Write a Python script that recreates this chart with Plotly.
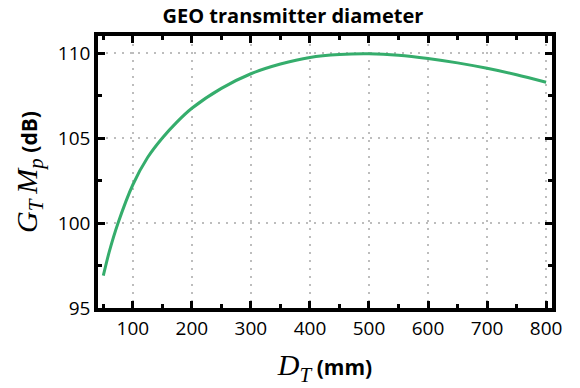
import plotly.graph_objects as go

# Transmitter diameter (mm) and resulting gain-pointing product (dB)
diameter_mm = [50, 60, 75, 100, 125, 150, 175, 200, 250, 300, 350, 400,
               450, 500, 550, 600, 650, 700, 750, 800]
gain_db = [96.9, 98.3, 100.0, 102.25, 103.85, 105.0, 105.95, 106.75, 107.92, 108.78,
           109.35, 109.74, 109.91, 109.95, 109.87, 109.68, 109.42, 109.1, 108.72, 108.28]

x_ticks = [100, 200, 300, 400, 500, 600, 700, 800]
y_ticks = [95, 100, 105, 110]

SANS = "Open Sans"
MATH = "Liberation Serif"

fig = go.Figure()
fig.add_trace(go.Scatter(
    x=diameter_mm, y=gain_db, mode="lines",
    line=dict(color="#35ad6c", width=3, shape="spline", smoothing=0.8),
    showlegend=False, hoverinfo="skip",
))

# Framed axes: thick border, inward ticks on all four sides, dotted grid
axis_common = dict(
    showline=True, linecolor="black", linewidth=3.5, mirror="allticks",
    ticks="inside", ticklen=7, tickwidth=3, tickcolor="black",
    showgrid=True, gridcolor="#bdbdbd", gridwidth=1.5, griddash="2px,6px",
    zeroline=False,
    tickfont=dict(family=SANS, size=19, color="black"),
)

fig.update_xaxes(
    **axis_common,
    range=[41, 810], tickvals=x_ticks,
    minor=dict(ticks="inside", ticklen=4, tickwidth=2.5, tickcolor="black",
               dtick=50, tick0=0, showgrid=False),
    title=dict(
        text=(f"<span style=\"font-family:'{MATH}';font-size:30px\"><i>D</i>"
              f"<sub><i>T</i></sub></span> <b>(mm)</b>"),
        font=dict(family=SANS, size=21, color="black"), standoff=22,
    ),
)
fig.update_yaxes(
    **axis_common,
    range=[95, 111], tickvals=y_ticks,
    minor=dict(ticks="inside", ticklen=4, tickwidth=2.5, tickcolor="black",
               dtick=2.5, tick0=95, showgrid=False),
    title=dict(
        text=(f"<span style=\"font-family:'{MATH}';font-size:30px\"><i>G</i>"
              f"<sub><i>T</i></sub>\u2009<i>M</i><sub><i>p</i></sub></span> <b>(dB)</b>"),
        font=dict(family=SANS, size=21, color="black"), standoff=16,
    ),
)

fig.update_layout(
    width=580, height=388,
    margin=dict(l=98, r=28, t=36, b=80),
    paper_bgcolor="white", plot_bgcolor="white",
    title=dict(text="<b>GEO transmitter diameter</b>", x=0.505, xanchor="center",
               y=0.96, yanchor="middle",
               font=dict(family=SANS, size=20, color="black")),
)

fig.write_html("out.html")
